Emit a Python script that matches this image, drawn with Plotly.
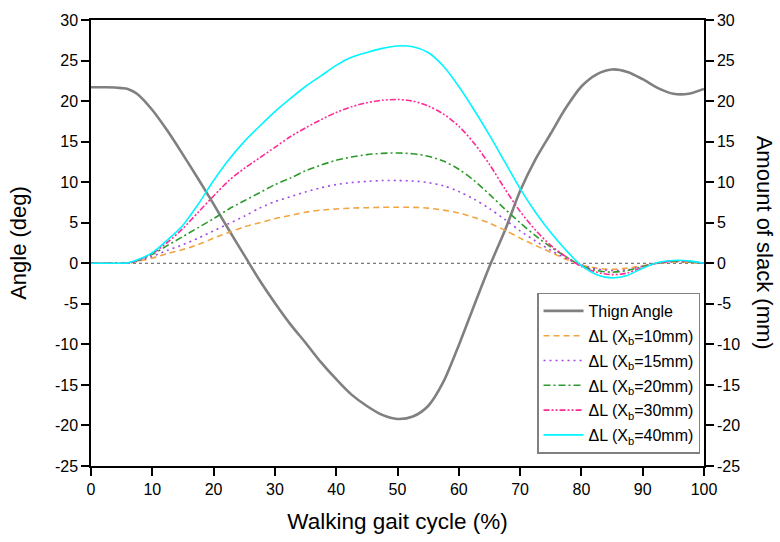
import plotly.graph_objects as go

# Gait cycle samples (%)
gait = [0, 2.5, 5, 6, 7.5, 10, 12.5, 15, 17.5, 20, 22.5, 25, 27.5, 30, 32.5, 35, 37.5, 40,
        42.5, 45, 47.5, 50, 52.5, 55, 57.5, 60, 62.5, 65, 67.5, 70, 72.5, 75, 77.5, 80,
        82.5, 85, 87.5, 90, 92.5, 95, 97.5, 100]

# Thigh angle (deg)
thigh = [21.7, 21.7, 21.6, 21.5, 20.9, 18.9, 16.3, 13.4, 10.4, 7.3, 4.1, 1.0, -2.1, -4.9,
         -7.5, -9.8, -12.2, -14.3, -16.2, -17.6, -18.7, -19.2, -18.9, -17.6, -14.6, -10.1,
         -5.2, -0.4, 4.0, 8.9, 12.8, 16.0, 19.2, 21.8, 23.3, 23.9, 23.6, 22.7, 21.6, 20.9,
         20.9, 21.5]

# Amount of slack (mm) for each Xb
slack_10 = [0, 0, 0, 0.02, 0.2, 0.65, 1.2, 1.7, 2.3, 3.1, 3.8, 4.5, 5.0, 5.5, 5.9, 6.3, 6.55,
            6.7, 6.8, 6.85, 6.9, 6.9, 6.9, 6.8, 6.55, 6.2, 5.65, 4.95, 4.1, 3.1, 2.2, 1.35, 0.5,
            -0.2, -0.6, -0.75, -0.6, -0.3, 0.0, 0.15, 0.1, 0]
slack_15 = [0, 0, 0, 0.02, 0.25, 0.85, 1.6, 2.3, 3.1, 4.0, 4.9, 5.8, 6.8, 7.6, 8.2, 8.8, 9.3,
            9.7, 9.95, 10.1, 10.2, 10.2, 10.15, 9.95, 9.55, 8.85, 7.9, 6.75, 5.4, 4.0, 2.75,
            1.6, 0.6, -0.2, -0.7, -0.9, -0.8, -0.35, 0.0, 0.2, 0.15, 0]
slack_20 = [0, 0, 0, 0.02, 0.3, 1.1, 2.2, 3.3, 4.4, 5.5, 6.7, 7.7, 8.7, 9.7, 10.5, 11.4,
            12.1, 12.7, 13.1, 13.4, 13.55, 13.6, 13.5, 13.2, 12.6, 11.6, 10.2, 8.5, 6.7, 5.0,
            3.4, 2.0, 0.8, -0.3, -0.9, -1.1, -0.9, -0.4, 0.05, 0.25, 0.2, 0]
slack_30 = [0, 0, 0, 0.03, 0.35, 1.2, 2.6, 4.3, 6.3, 8.3, 10.2, 11.7, 13.0, 14.3, 15.6, 16.7,
            17.7, 18.6, 19.3, 19.8, 20.1, 20.2, 20.0, 19.4, 18.4, 16.9, 14.8, 12.2, 9.2, 6.4,
            4.1, 2.2, 0.8, -0.4, -1.1, -1.4, -1.2, -0.5, 0.05, 0.3, 0.25, 0]
slack_40 = [0, 0, 0, 0.05, 0.4, 1.3, 2.9, 4.7, 7.3, 10.2, 12.8, 15.0, 16.9, 18.7, 20.3, 21.8,
            23.1, 24.4, 25.4, 26.0, 26.5, 26.8, 26.7, 26.0, 24.3, 21.8, 18.9, 15.8, 12.5, 9.2,
            6.3, 3.8, 1.6, -0.3, -1.4, -1.8, -1.5, -0.6, 0.1, 0.35, 0.3, 0]

x_ticks = [0, 10, 20, 30, 40, 50, 60, 70, 80, 90, 100]
y_ticks = [-25, -20, -15, -10, -5, 0, 5, 10, 15, 20, 25, 30]
y_labels = [str(v) for v in y_ticks]

FONT = "Liberation Sans, Arial, sans-serif"

fig = go.Figure()

fig.add_trace(go.Scatter(
    x=gait, y=thigh, name="Thign Angle", mode="lines", legendgroup="thigh",
    line=dict(color="#808080", width=2.6, shape="spline", smoothing=0.8),
))

slack_series = [
    ("10", slack_10, "#F2A440", "6px,4px"),
    ("15", slack_15, "#A346E6", "2px,4px"),
    ("20", slack_20, "#2E9A2E", "7px,3px,2px,3px"),
    ("30", slack_30, "#FF2A96", "6px,2px,2px,2px,2px,2px"),
    ("40", slack_40, "#00F5FF", "solid"),
]
for xb, vals, color, dash in slack_series:
    fig.add_trace(go.Scatter(
        x=gait, y=vals, yaxis="y2", mode="lines", legendgroup=f"xb{xb}",
        name=f"\u0394L (X<sub>b</sub>={xb}mm)",
        line=dict(color=color, width=1.6, dash=dash, shape="spline", smoothing=0.8),
    ))

axis_common = dict(
    showline=True, linecolor="black", linewidth=1.5,
    ticks="outside", ticklen=8, tickwidth=1.5, tickcolor="black",
    showgrid=False, zeroline=False,
    tickfont=dict(family=FONT, size=16, color="black"),
)

fig.update_layout(
    width=780, height=542,
    margin=dict(l=91, r=76, t=16, b=76),
    paper_bgcolor="white", plot_bgcolor="white",
    font=dict(family=FONT, color="black"),
    xaxis=dict(range=[0, 100], tickvals=x_ticks, mirror=True, **axis_common,
               title=dict(text="Walking gait cycle (%)", font=dict(size=22.5), standoff=16)),
    yaxis=dict(range=[-25, 30], tickvals=y_ticks, ticktext=y_labels, **axis_common,
               title=dict(text="Angle (deg)", font=dict(size=22), standoff=22)),
    yaxis2=dict(range=[-25, 30], tickvals=y_ticks, ticktext=y_labels, overlaying="y",
                side="right", **axis_common),
    legend=dict(
        x=0.9935, xanchor="right", y=0.389, yanchor="top",
        bordercolor="#808080", borderwidth=1.5, bgcolor="white",
        font=dict(family=FONT, size=16, color="black"),
        itemwidth=40, tracegroupgap=1,
    ),
    showlegend=True,
)

# Dotted zero reference line
fig.add_shape(type="line", xref="paper", x0=0, x1=1, yref="y", y0=0, y1=0,
              line=dict(color="#555555", width=1, dash="dot"), layer="below")

# Right-hand axis title, reading top to bottom
fig.add_annotation(text="Amount of slack (mm)", xref="paper", yref="paper",
                   x=1.1, xanchor="center", y=0.5, yanchor="middle",
                   textangle=90, showarrow=False,
                   font=dict(family=FONT, size=22, color="black"))

fig.write_html("out.html")
